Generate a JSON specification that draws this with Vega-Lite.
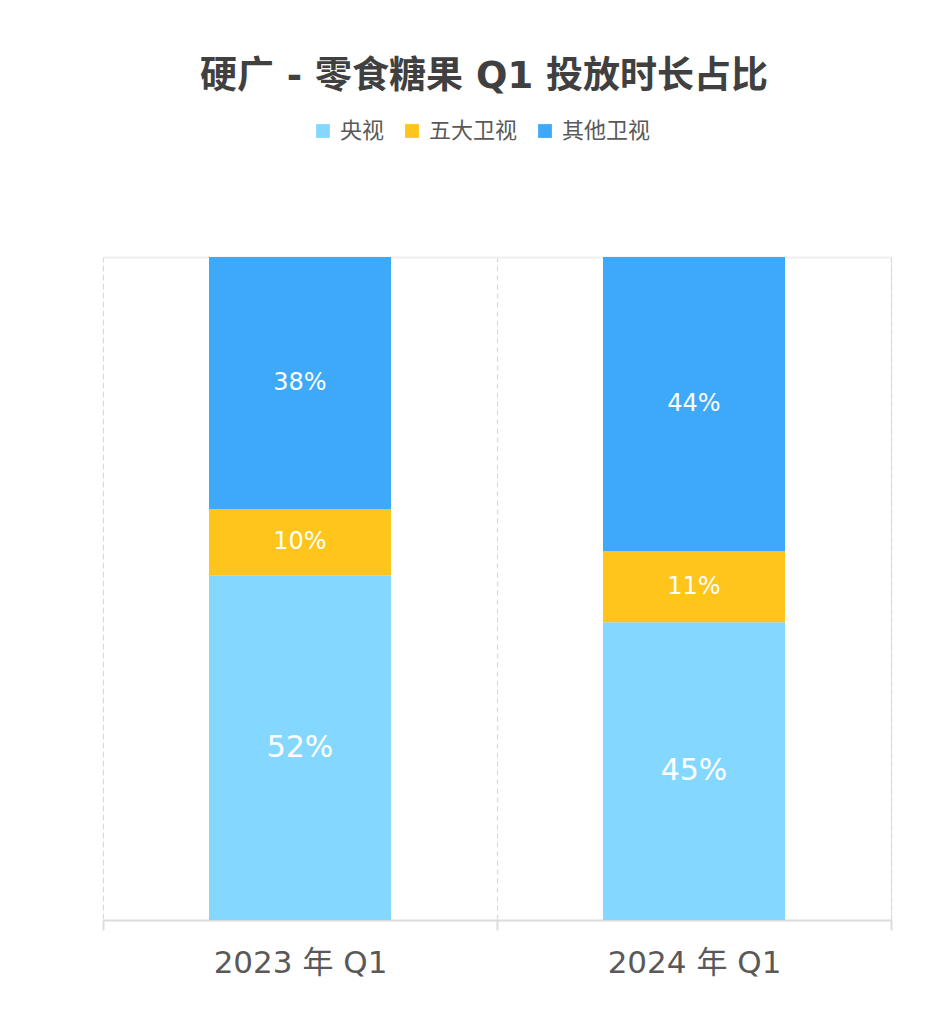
{
  "$schema": "https://vega.github.io/schema/vega-lite/v6.json",
  "width": 788,
  "height": 663,
  "autosize": "none",
  "padding": {"left": 103, "top": 257, "right": 48, "bottom": 113},
  "background": "white",
  "config": {
    "font": "DejaVu Sans, Noto Sans CJK SC",
    "view": {"stroke": "#dddddd", "strokeDash": [5, 4], "strokeWidth": 1}
  },
  "title": {
    "text": "硬广 - 零食糖果 Q1 投放时长占比",
    "fontSize": 37,
    "fontWeight": "bold",
    "color": "#404040",
    "font": "DejaVu Sans, Noto Sans CJK SC",
    "anchor": "middle",
    "dx": -13,
    "offset": 24
  },
  "data": {
    "values": [
      {"q": "2023 年 Q1", "s": "央视", "idx": 1, "v": 0.52},
      {"q": "2023 年 Q1", "s": "五大卫视", "idx": 2, "v": 0.10},
      {"q": "2023 年 Q1", "s": "其他卫视", "idx": 3, "v": 0.38},
      {"q": "2024 年 Q1", "s": "央视", "idx": 1, "v": 0.449},
      {"q": "2024 年 Q1", "s": "五大卫视", "idx": 2, "v": 0.107},
      {"q": "2024 年 Q1", "s": "其他卫视", "idx": 3, "v": 0.444}
    ]
  },
  "transform": [
    {"stack": "v", "groupby": ["q"], "sort": [{"field": "idx", "order": "ascending"}], "as": ["y0", "y1"]},
    {"calculate": "(datum.y0 + datum.y1) / 2", "as": "ym"}
  ],
  "encoding": {
    "x": {
      "field": "q",
      "type": "nominal",
      "sort": null,
      "scale": {"paddingInner": 0, "paddingOuter": 0},
      "axis": {
        "title": null,
        "labelAngle": 0,
        "labelFontSize": 31,
        "labelColor": "#595959",
        "labelPadding": 18,
        "bandPosition": 0,
        "tickBand": "extent",
        "tickSize": 10,
        "tickColor": "#dcdcdc",
        "tickWidth": 2,
        "domainColor": "#dcdcdc",
        "domainWidth": 2,
        "grid": true,
        "gridColor": "#d9d9d9",
        "gridDash": [5, 4],
        "gridWidth": 1.2
      }
    }
  },
  "layer": [
    {
      "mark": {"type": "bar", "width": {"band": 0.462}},
      "encoding": {
        "y": {
          "field": "y0",
          "type": "quantitative",
          "scale": {"domain": [0, 1], "nice": false},
          "axis": {
            "values": [1],
            "grid": true,
            "gridColor": "#f0f0f0",
            "gridWidth": 2,
            "gridDash": [],
            "labels": false,
            "ticks": false,
            "domain": false,
            "title": null
          }
        },
        "y2": {"field": "y1"},
        "color": {
          "field": "s",
          "type": "nominal",
          "scale": {
            "domain": ["央视", "五大卫视", "其他卫视"],
            "range": ["#84D7FF", "#FFC51A", "#3DA9F8"]
          },
          "legend": {
            "title": null,
            "orient": "none",
            "direction": "horizontal",
            "legendX": 209,
            "legendY": -137,
            "symbolType": "square",
            "symbolSize": 190,
            "symbolStrokeWidth": 0,
            "labelFontSize": 22,
            "labelColor": "#595959",
            "labelOffset": 6,
            "columnPadding": 16
          }
        }
      }
    },
    {
      "mark": {"type": "text", "color": "white", "baseline": "middle", "align": "center"},
      "encoding": {
        "y": {"field": "ym", "type": "quantitative"},
        "text": {"field": "v", "type": "quantitative", "format": ".0%"},
        "size": {"condition": {"test": "datum.s === '央视'", "value": 30}, "value": 24}
      }
    }
  ]
}
